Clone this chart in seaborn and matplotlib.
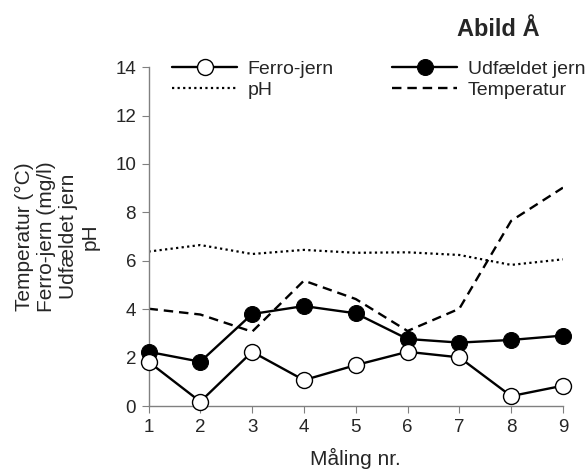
import matplotlib
matplotlib.use("Agg")
import matplotlib.pyplot as plt
import seaborn as sns
import pandas as pd

sns.set_style("ticks")
plt.rcParams['font.family'] = ['Liberation Sans', 'DejaVu Sans']

maaling = [1, 2, 3, 4, 5, 6, 7, 8, 9]
ferro_jern = [1.83, 0.18, 2.24, 1.07, 1.69, 2.24, 2.01, 0.41, 0.84]
udfaeldet_jern = [2.24, 1.83, 3.80, 4.13, 3.83, 2.77, 2.62, 2.73, 2.91]
ph = [6.38, 6.65, 6.28, 6.45, 6.33, 6.35, 6.24, 5.83, 6.06]
temperatur = [4.02, 3.78, 3.07, 5.18, 4.42, 3.10, 4.02, 7.65, 9.02]

df = pd.DataFrame({"x": maaling, "Ferro-jern": ferro_jern,
                   "Udfældet jern": udfaeldet_jern, "pH": ph,
                   "Temperatur": temperatur})

fig = plt.figure(figsize=(5.87, 4.76), dpi=100)
ax = fig.add_axes([0.253, 0.147, 0.706, 0.712])

lw = 1.7
sns.lineplot(data=df, x="x", y="Ferro-jern", ax=ax, color="black", lw=lw,
             marker="o", markersize=11.5, markerfacecolor="white",
             markeredgecolor="black", markeredgewidth=1.0, label="Ferro-jern",
             zorder=4, clip_on=False)
sns.lineplot(data=df, x="x", y="Udfældet jern", ax=ax, color="black", lw=lw,
             marker="o", markersize=11.5, markerfacecolor="black",
             markeredgecolor="black", label="Udfældet jern", zorder=3, clip_on=False)
sns.lineplot(data=df, x="x", y="pH", ax=ax, color="black", lw=1.6,
             linestyle=(0, (1, 1.5)), label="pH", zorder=2)
sns.lineplot(data=df, x="x", y="Temperatur", ax=ax, color="black", lw=1.7,
             linestyle=(0, (4, 2.5)), label="Temperatur", zorder=2)

ax.set_xlim(1, 9)
ax.set_ylim(0, 14)
ax.set_xticks(maaling)
ax.set_yticks([0, 2, 4, 6, 8, 10, 12, 14])
ax.tick_params(labelsize=13.5, direction="out", length=5, color="#808080", pad=4)
for s in ["top", "right"]:
    ax.spines[s].set_visible(False)
for s in ["left", "bottom"]:
    ax.spines[s].set_color("#808080")
    ax.spines[s].set_linewidth(1.0)

ax.set_xlabel("Måling nr.", fontsize=15)
ax.xaxis.set_label_coords(0.5, -0.125)
ax.set_ylabel("Temperatur (°C)\nFerro-jern (mg/l)\nUdfældet jern\npH",
              fontsize=15, linespacing=1.2)
ax.yaxis.set_label_coords(-0.118, 0.5)

h, l = ax.get_legend_handles_labels()
order = [0, 2, 1, 3]
leg = ax.legend([h[i] for i in order], [l[i] for i in order],
                ncol=2, loc="upper left", bbox_to_anchor=(0.293, 0.874),
                bbox_transform=fig.transFigure, borderpad=0, borderaxespad=0,
                frameon=False, fontsize=14, handlelength=3.35,
                columnspacing=3.0, handletextpad=0.55, labelspacing=0.2)

fig.text(0.849, 0.924, "Abild Å", fontsize=17, fontweight="bold", ha="center")

fig.savefig("out.png", dpi=100)
